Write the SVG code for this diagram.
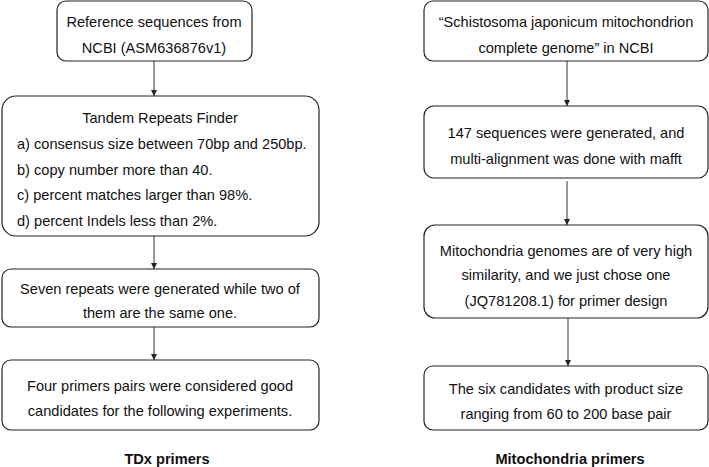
<svg xmlns="http://www.w3.org/2000/svg" width="709" height="467" viewBox="0 0 709 467">
<defs>
<style>
.box{fill:#fff;stroke:#222;stroke-width:1.2}
.t{font-family:"Liberation Sans",Arial,sans-serif;font-size:14.6px;fill:#111}
.c{text-anchor:middle}
.b{font-weight:bold}
.con{stroke:#333;stroke-width:1;fill:none;marker-end:url(#ah)}
</style>
<marker id="ah" viewBox="0 0 8 8" refX="8" refY="4" markerWidth="6" markerHeight="6" markerUnits="userSpaceOnUse" orient="auto">
<path d="M0,0 L8,4 L0,8 z" fill="#222"/>
</marker>
</defs>
<rect width="709" height="467" fill="#fff"/>
<g id="connectors">
<line class="con" x1="154" y1="61" x2="154" y2="96"/>
<line class="con" x1="154" y1="236" x2="154" y2="269"/>
<line class="con" x1="154" y1="327" x2="154" y2="360"/>
<line class="con" x1="567" y1="61" x2="567" y2="106"/>
<line class="con" x1="567" y1="181" x2="567" y2="225"/>
<line class="con" x1="568" y1="318" x2="568" y2="366"/>
</g>
<g id="n1">
<rect class="box" x="57" y="1" width="195" height="60" rx="9"/>
<text class="t c" x="154" y="27">Reference sequences from</text>
<text class="t c" x="154" y="53">NCBI (ASM636876v1)</text>
</g>
<g id="n2">
<rect class="box" x="2" y="96" width="317" height="140" rx="14"/>
<text class="t c" x="160" y="123">Tandem Repeats Finder</text>
<text class="t" x="17" y="149">a) consensus size between 70bp and 250bp.</text>
<text class="t" x="17" y="175">b) copy number more than 40.</text>
<text class="t" x="17" y="200">c) percent matches larger than 98%.</text>
<text class="t" x="17" y="226">d) percent Indels less than 2%.</text>
</g>
<g id="n3">
<rect class="box" x="2" y="269" width="317" height="58" rx="9"/>
<text class="t c" x="160" y="294">Seven repeats were generated while two of</text>
<text class="t c" x="160" y="318">them are the same one.</text>
</g>
<g id="n4">
<rect class="box" x="2" y="360" width="317" height="70" rx="9"/>
<text class="t c" x="160" y="391">Four primers pairs were considered good</text>
<text class="t c" x="160" y="416">candidates for the following experiments.</text>
</g>
<g id="label1">
<text class="t c b" x="167" y="464">TDx primers</text>
</g>
<g id="m1">
<rect class="box" x="424" y="1" width="284" height="60" rx="9"/>
<text class="t c" x="566" y="27">“Schistosoma japonicum mitochondrion</text>
<text class="t c" x="566" y="53">complete genome” in NCBI</text>
</g>
<g id="m2">
<rect class="box" x="424" y="106" width="284" height="72" rx="10"/>
<text class="t c" x="566" y="138">147 sequences were generated, and</text>
<text class="t c" x="566" y="164">multi-alignment was done with mafft</text>
</g>
<g id="m3">
<rect class="box" x="424" y="225" width="284" height="93" rx="11"/>
<text class="t c" x="566" y="256">Mitochondria genomes are of very high</text>
<text class="t c" x="566" y="280">similarity, and we just chose one</text>
<text class="t c" x="566" y="306">(JQ781208.1) for primer design</text>
</g>
<g id="m4">
<rect class="box" x="424" y="366" width="284" height="64" rx="9"/>
<text class="t c" x="566" y="394">The six candidates with product size</text>
<text class="t c" x="566" y="419">ranging from 60 to 200 base pair</text>
</g>
<g id="label2">
<text class="t c b" x="570" y="464">Mitochondria primers</text>
</g>
</svg>
